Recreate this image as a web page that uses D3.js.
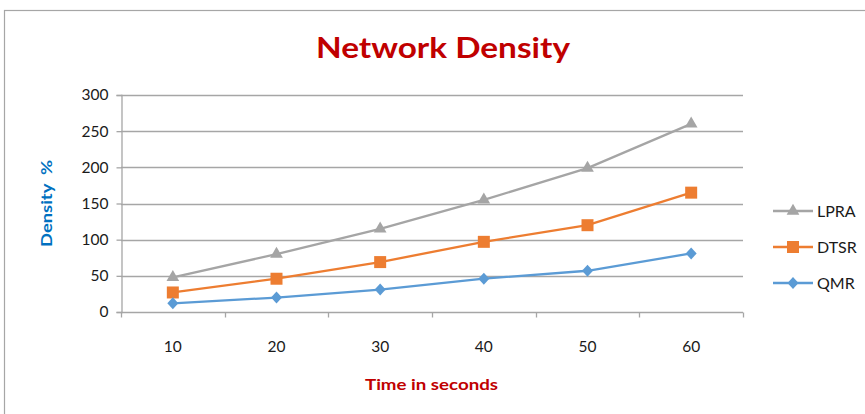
<!DOCTYPE html>
<html>
<head>
<meta charset="utf-8">
<script src="https://cdn.jsdelivr.net/npm/d3@7"></script>
<style>
  html, body { margin: 0; padding: 0; background: #fff; }
  svg { display: block; }
</style>
</head>
<body>
<svg id="chart" width="865" height="414"></svg>
<script>
// Time (seconds) on the x axis
const categories = ["10", "20", "30", "40", "50", "60"];
// Density % per routing scheme
const lpra = [48, 80, 115, 155, 199, 260];
const dtsr = [27, 46, 69, 97, 120, 165];
const qmr  = [12, 20, 31, 46, 57, 81];
const yTicks = [0, 50, 100, 150, 200, 250, 300];

const series = [
  { name: "LPRA", values: lpra, color: "#a5a5a5", marker: "triangle" },
  { name: "DTSR", values: dtsr, color: "#ed7d31", marker: "square" },
  { name: "QMR",  values: qmr,  color: "#5b9bd5", marker: "diamond" }
];

const font = "Lato, Carlito, 'Liberation Sans', sans-serif";
const svg = d3.select("#chart");

// outer chart frame
svg.append("rect")
  .attr("x", 4.5).attr("y", 10.5)
  .attr("width", 900).attr("height", 450)
  .attr("fill", "#fff").attr("stroke", "#a6a6a6").attr("stroke-width", 1.2);

const plot = { left: 121, right: 743, top: 95, bottom: 312 };

const x = d3.scaleBand().domain(categories).range([plot.left, plot.right]);
const y = d3.scaleLinear().domain([0, 300]).range([plot.bottom, plot.top]);

// horizontal gridlines
svg.append("g")
  .selectAll("line")
  .data(yTicks.filter(d => d > 0))
  .join("line")
  .attr("x1", plot.left).attr("x2", plot.right)
  .attr("y1", d => Math.round(y(d)) + 0.5).attr("y2", d => Math.round(y(d)) + 0.5)
  .attr("stroke", "#a6a6a6").attr("stroke-width", 1.3);

// y axis
const yAxis = svg.append("g")
  .attr("transform", `translate(${plot.left + 0.5},0)`)
  .call(d3.axisLeft(y).tickValues(yTicks).tickSize(5).tickPadding(8));
yAxis.select(".domain").attr("stroke", "#a6a6a6").attr("stroke-width", 1.3);
yAxis.selectAll(".tick line").attr("stroke", "#a6a6a6").attr("stroke-width", 1.3);
yAxis.selectAll(".tick text")
  .attr("font-family", font).attr("font-size", 15.5).attr("fill", "#1a1a1a");

// x axis with tick marks between categories
const xAxisG = svg.append("g")
  .attr("transform", `translate(0,${plot.bottom + 0.5})`);
xAxisG.append("line")
  .attr("x1", plot.left).attr("x2", plot.right)
  .attr("stroke", "#a6a6a6").attr("stroke-width", 1.3);
const boundaries = categories.map(c => x(c)).concat([x(categories[categories.length - 1]) + x.bandwidth()]);
xAxisG.selectAll("line.tk")
  .data(boundaries)
  .join("line").attr("class", "tk")
  .attr("x1", d => Math.round(d) + 0.5).attr("x2", d => Math.round(d) + 0.5)
  .attr("y1", 0).attr("y2", 5)
  .attr("stroke", "#a6a6a6").attr("stroke-width", 1.3);
xAxisG.selectAll("text")
  .data(categories)
  .join("text")
  .attr("x", d => x(d) + x.bandwidth() / 2)
  .attr("y", 39)
  .attr("text-anchor", "middle")
  .attr("font-family", font).attr("font-size", 15.5).attr("fill", "#1a1a1a")
  .text(d => d);

// marker shapes
function markerPath(type) {
  if (type === "triangle") return d3.symbol(d3.symbolTriangle, 70)();
  if (type === "square") return "M-6,-6H6V6H-6Z";
  return "M0,-6L5.5,0L0,6L-5.5,0Z";
}

const line = d3.line()
  .x((d, i) => x(categories[i]) + x.bandwidth() / 2)
  .y(d => y(d));

series.forEach(s => {
  const g = svg.append("g");
  g.append("path")
    .datum(s.values)
    .attr("d", line)
    .attr("fill", "none").attr("stroke", s.color).attr("stroke-width", 2.3);
  g.selectAll("path.m")
    .data(s.values)
    .join("path").attr("class", "m")
    .attr("transform", (d, i) => `translate(${x(categories[i]) + x.bandwidth() / 2},${y(d)})`)
    .attr("d", markerPath(s.marker))
    .attr("fill", s.color);
});

// legend
const legend = svg.append("g");
const legendY = [211, 247, 283];
series.forEach((s, i) => {
  const g = legend.append("g").attr("transform", `translate(773,${legendY[i]})`);
  g.append("line").attr("x1", 0).attr("x2", 40).attr("y1", 0).attr("y2", 0)
    .attr("stroke", s.color).attr("stroke-width", 2.3);
  g.append("path").attr("transform", "translate(20,0)")
    .attr("d", markerPath(s.marker)).attr("fill", s.color);
  g.append("text").attr("x", 44).attr("y", 6)
    .attr("font-family", font).attr("font-size", 16).attr("fill", "#1a1a1a")
    .text(s.name);
});

// titles
svg.append("text")
  .attr("x", 316).attr("y", 58)
  .attr("font-family", font).attr("font-weight", "bold").attr("font-size", 29)
  .attr("textLength", 254).attr("lengthAdjust", "spacingAndGlyphs")
  .attr("fill", "#c00000")
  .text("Network Density");

svg.append("text")
  .attr("x", 365).attr("y", 390)
  .attr("font-family", font).attr("font-weight", "bold").attr("font-size", 16)
  .attr("textLength", 133).attr("lengthAdjust", "spacingAndGlyphs")
  .attr("fill", "#c00000")
  .text("Time in seconds");

svg.append("text")
  .attr("transform", "translate(52,247) rotate(-90)")
  .attr("font-family", font).attr("font-weight", "bold").attr("font-size", 16)
  .attr("textLength", 87).attr("lengthAdjust", "spacingAndGlyphs")
  .attr("fill", "#0070c0")
  .attr("xml:space", "preserve")
  .text("Density  %");
</script>
</body>
</html>
